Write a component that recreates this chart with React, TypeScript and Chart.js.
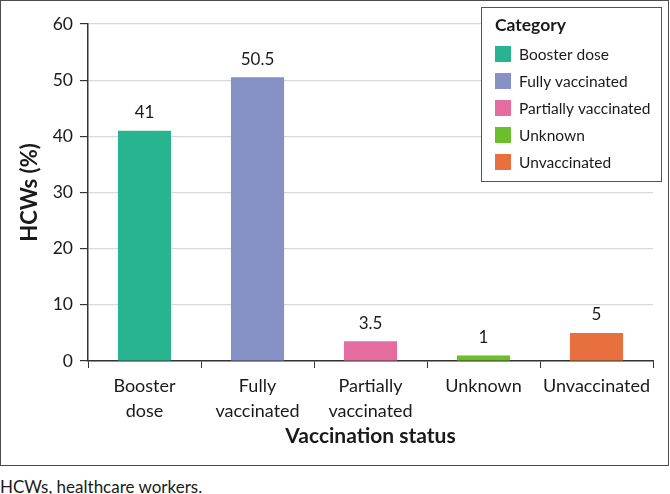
import React, { useEffect, useRef } from "react";
import { Chart, registerables } from "chart.js";

Chart.register(...registerables);

const categories = ["Booster dose", "Fully vaccinated", "Partially vaccinated", "Unknown", "Unvaccinated"];
const tickLabels = [["Booster", "dose"], ["Fully", "vaccinated"], ["Partially", "vaccinated"], ["Unknown"], ["Unvaccinated"]];
const values = [41, 50.5, 3.5, 1, 5];
const colors = ["#27B48E", "#8691C5", "#E56C9F", "#6DBE2C", "#E8703F"];
const yMin = 0;
const yMax = 60;
const yStep = 10;
const legendTitle = "Category";
const xTitle = "Vaccination status";
const yTitle = "HCWs (%)";
const footnote = "HCWs, healthcare workers.";

const FONT = "Lato, 'Open Sans', sans-serif";
const TEXT = "#1a1a1a";
const AXIS = "#333333";

const dataLabelPlugin = {
  id: "dataLabels",
  afterDatasetsDraw(chart: any) {
    const ctx = chart.ctx;
    const meta = chart.getDatasetMeta(0);
    ctx.save();
    ctx.font = `17px ${FONT}`;
    ctx.fillStyle = TEXT;
    ctx.textAlign = "center";
    ctx.textBaseline = "alphabetic";
    meta.data.forEach((bar: any, i: number) => {
      ctx.fillText(String(values[i]), bar.x, bar.y - 12.5);
    });
    ctx.restore();
  },
};

const legendPlugin = {
  id: "boxLegend",
  afterDraw(chart: any) {
    const ctx = chart.ctx;
    const x = 481;
    const y = 7;
    const w = 180;
    const h = 174;
    ctx.save();
    ctx.fillStyle = "#ffffff";
    ctx.fillRect(x, y, w, h);
    ctx.strokeStyle = "#555555";
    ctx.lineWidth = 1;
    ctx.strokeRect(x + 0.5, y + 0.5, w, h);
    ctx.fillStyle = TEXT;
    ctx.textAlign = "left";
    ctx.textBaseline = "middle";
    ctx.font = `bold 17.5px ${FONT}`;
    ctx.fillText(legendTitle, x + 14, y + 18);
    ctx.font = `15.5px ${FONT}`;
    categories.forEach((c, i) => {
      const cy = y + 47 + i * 27;
      ctx.fillStyle = colors[i];
      ctx.fillRect(x + 14, cy - 8, 16, 16);
      ctx.fillStyle = TEXT;
      ctx.fillText(c, x + 38, cy + 1);
    });
    ctx.restore();
  },
};

export default function App() {
  const ref = useRef<HTMLCanvasElement | null>(null);

  useEffect(() => {
    if (!ref.current) return;
    const chart = new Chart(ref.current, {
      type: "bar",
      data: {
        labels: tickLabels,
        datasets: [
          {
            data: values,
            backgroundColor: colors,
            borderWidth: 0,
            categoryPercentage: 1,
            barPercentage: 0.47,
          },
        ],
      },
      options: {
        responsive: false,
        animation: false,
        devicePixelRatio: 1,
        layout: { padding: { top: 24, right: 17, left: 0, bottom: 0 } },
        plugins: {
          legend: { display: false },
          tooltip: { enabled: false },
        },
        scales: {
          x: {
            afterFit(scale: any) {
              scale.height = 105;
            },
            grid: {
              display: true,
              drawOnChartArea: false,
              drawTicks: true,
              tickLength: 7,
              tickColor: AXIS,
              offset: true,
            },
            border: { display: true, color: AXIS, width: 1.5 },
            ticks: {
              color: TEXT,
              font: { family: FONT, size: 18, lineHeight: 1.39 },
              padding: 6,
              maxRotation: 0,
              autoSkip: false,
            },
            title: {
              display: true,
              text: xTitle,
              color: TEXT,
              font: { family: FONT, size: 21, weight: "bold", lineHeight: 1.2 },
              padding: { top: 0, bottom: 17.4 },
            },
          },
          y: {
            min: yMin,
            max: yMax,
            afterFit(scale: any) {
              scale.width = 88;
            },
            grid: {
              color: "#d9d9d9",
              lineWidth: 1.2,
              drawTicks: true,
              tickLength: 8,
              tickColor: AXIS,
            },
            border: { display: true, color: AXIS, width: 1.5 },
            ticks: {
              stepSize: yStep,
              color: TEXT,
              font: { family: FONT, size: 17.5 },
              padding: 7,
            },
            title: {
              display: true,
              text: yTitle,
              color: TEXT,
              font: { family: FONT, size: 22, weight: "bold", lineHeight: 1.2 },
              padding: { top: 17, bottom: 0 },
            },
          },
        },
      },
      plugins: [dataLabelPlugin, legendPlugin],
    } as any);
    return () => chart.destroy();
  }, []);

  return (
    <div style={{ position: "absolute", left: 0, top: 0, width: 670, height: 494, background: "#ffffff" }}>
      <canvas ref={ref} width={670} height={466} style={{ position: "absolute", left: 0, top: 0, width: 670, height: 466 }} />
      <div
        style={{
          position: "absolute",
          left: 0,
          top: 0,
          width: 669,
          height: 466,
          boxSizing: "border-box",
          border: "1.5px solid #4d4d4d",
          pointerEvents: "none",
        }}
      />
      <div
        style={{
          position: "absolute",
          left: 0,
          top: 476,
          fontFamily: FONT,
          fontSize: 17,
          lineHeight: "22px",
          color: TEXT,
          whiteSpace: "nowrap",
        }}
      >
        {footnote}
      </div>
    </div>
  );
}
